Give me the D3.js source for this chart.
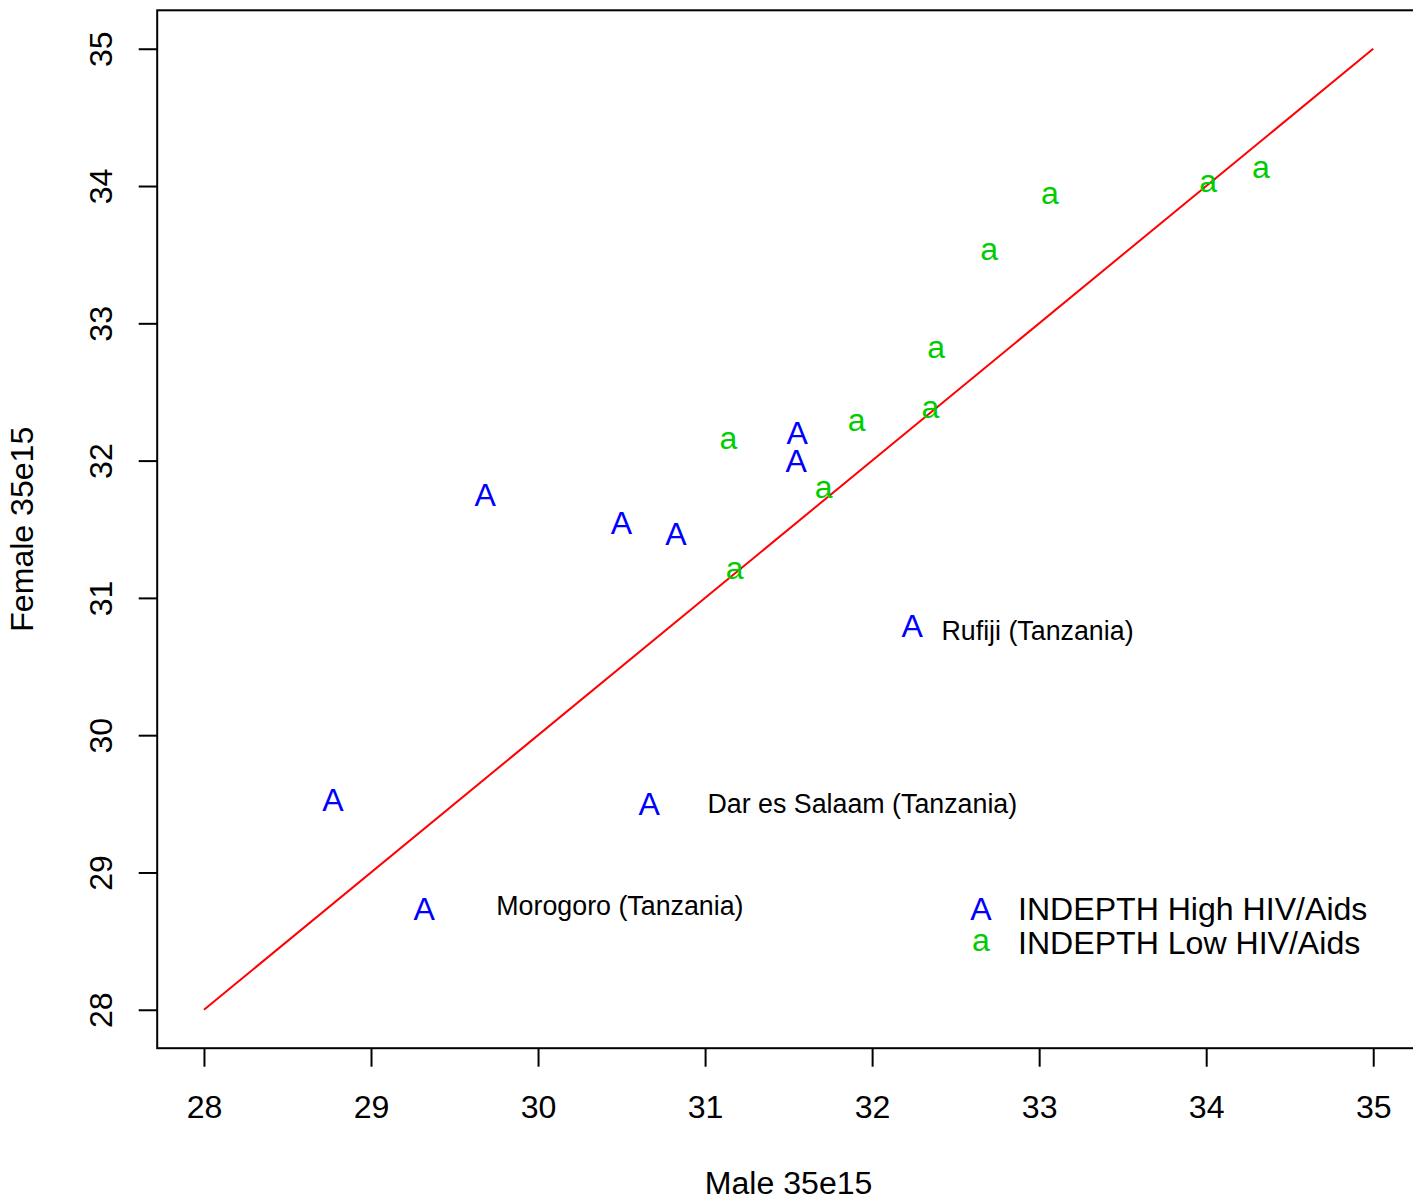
<!DOCTYPE html>
<html>
<head>
<meta charset="utf-8">
<script src="https://cdn.jsdelivr.net/npm/d3@7"></script>
<style>
  html, body { margin: 0; padding: 0; background: #fff; }
  svg { display: block; }
  text { font-family: "Liberation Sans", Arial, Helvetica, sans-serif; }
</style>
</head>
<body>
<svg id="chart" width="1413" height="1199"></svg>
<script>
// Life expectancy at age 35 (e35), male vs female, INDEPTH sites
const highHivMale   = [28.772, 29.319, 29.684, 30.499, 30.826, 30.666, 31.551, 31.545, 32.240];
const highHivFemale = [29.530, 28.736, 31.747, 31.549, 31.464, 29.501, 32.201, 31.994, 30.795];
const lowHivMale    = [31.140, 31.177, 31.710, 31.907, 32.349, 32.383, 32.701, 33.064, 34.012, 34.328];
const lowHivFemale  = [32.146, 31.200, 31.791, 32.277, 32.370, 32.806, 33.525, 33.934, 34.022, 34.118];

const siteLabels = ["Rufiji (Tanzania)", "Dar es Salaam (Tanzania)", "Morogoro (Tanzania)"];
const siteLabelX = [32.415, 31.014, 29.750];
const siteLabelY = [30.764, 29.501, 28.763];

const tickValues = [28, 29, 30, 31, 32, 33, 34, 35];
const equalityLine = [28, 35];

const legendSymbols = ["A", "a"];
const legendLabels = ["INDEPTH High HIV/Aids", "INDEPTH Low HIV/Aids"];

const xTitle = "Male 35e15";
const yTitle = "Female 35e15";

// ---- layout / style ----
const FONT = '"Liberation Sans", Arial, Helvetica, sans-serif';
const baseSize = 32.1;
const labelSize = 26.8;
const blue = "#0000FF";
const green = "#00CD00";

const svg = d3.select("#chart");

// base-graphics style 4% padding around 28..35
const x = d3.scaleLinear().domain([27.72, 35.28]).range([157.2, 1420]);
const y = d3.scaleLinear().domain([27.72, 35.28]).range([1048.2, 10.3]);

// ink-centred vertical offset of a glyph (so the symbol's centre sits on the point)
const ctx = document.createElement("canvas").getContext("2d");
function inkOffset(str, size) {
  ctx.font = `${size}px ${FONT}`;
  const m = ctx.measureText(str);
  return (m.actualBoundingBoxAscent - m.actualBoundingBoxDescent) / 2;
}

// plot frame
svg.append("rect")
  .attr("x", x(27.72)).attr("y", y(35.28))
  .attr("width", x(35.28) - x(27.72))
  .attr("height", y(27.72) - y(35.28))
  .attr("fill", "none").attr("stroke", "#000").attr("stroke-width", 2);

// x axis
const xAxis = d3.axisBottom(x).tickValues(tickValues).tickSize(18.5).tickPadding(0).tickFormat(d3.format("d"));
const gx = svg.append("g").attr("transform", `translate(0,${y(27.72)})`).call(xAxis);
gx.select(".domain").remove();
gx.selectAll(".tick line").attr("stroke", "#000").attr("stroke-width", 2);
gx.selectAll(".tick text")
  .attr("font-size", baseSize).attr("font-family", FONT).attr("fill", "#000")
  .attr("dy", null).attr("y", 1118.3 - y(27.72));

// y axis (labels rotated, reading upwards)
const yAxis = d3.axisLeft(y).tickValues(tickValues).tickSize(18.5).tickPadding(0).tickFormat(d3.format("d"));
const gy = svg.append("g").attr("transform", `translate(${x(27.72)},0)`).call(yAxis);
gy.select(".domain").remove();
gy.selectAll(".tick line").attr("stroke", "#000").attr("stroke-width", 2);
gy.selectAll(".tick text")
  .attr("font-size", baseSize).attr("font-family", FONT).attr("fill", "#000")
  .attr("x", null).attr("dy", null)
  .attr("text-anchor", "middle")
  .attr("transform", `translate(${111.7 - x(27.72)},0) rotate(-90)`);

// axis titles
svg.append("text")
  .attr("x", (x(27.72) + x(35.28)) / 2).attr("y", 1194)
  .attr("text-anchor", "middle").attr("font-size", baseSize).attr("fill", "#000")
  .text(xTitle);
svg.append("text")
  .attr("transform", `translate(33.3,${(y(27.72) + y(35.28)) / 2}) rotate(-90)`)
  .attr("text-anchor", "middle").attr("font-size", baseSize).attr("fill", "#000")
  .text(yTitle);

// clip marks to the plotting region
svg.append("clipPath").attr("id", "plotclip")
  .append("rect")
  .attr("x", x(27.72)).attr("y", y(35.28))
  .attr("width", x(35.28) - x(27.72)).attr("height", y(27.72) - y(35.28));
const plot = svg.append("g").attr("clip-path", "url(#plotclip)");

// equality line
plot.append("path")
  .datum(equalityLine)
  .attr("d", d3.line().x(d => x(d)).y(d => y(d)))
  .attr("fill", "none").attr("stroke", "#FF0000").attr("stroke-width", 2);

// points drawn as letters
function drawLetters(xs, ys, letter, color) {
  const off = inkOffset(letter, baseSize);
  plot.append("g").selectAll("text")
    .data(xs.map((v, i) => [v, ys[i]]))
    .join("text")
    .attr("x", d => x(d[0]))
    .attr("y", d => y(d[1]) + off)
    .attr("text-anchor", "middle")
    .attr("font-size", baseSize)
    .attr("fill", color)
    .text(letter);
}
drawLetters(highHivMale, highHivFemale, "A", blue);
drawLetters(lowHivMale, lowHivFemale, "a", green);

// site annotations
const capOff = inkOffset("H", labelSize);
plot.append("g").selectAll("text")
  .data(siteLabels.map((t, i) => ({ t, x: siteLabelX[i], y: siteLabelY[i] })))
  .join("text")
  .attr("x", d => x(d.x))
  .attr("y", d => y(d.y) + capOff)
  .attr("font-size", labelSize)
  .attr("fill", "#000")
  .text(d => d.t);

// legend
const legend = svg.append("g");
const legendColors = [blue, green];
const legendRowY = [908.6, 942.8];
legendSymbols.forEach((s, i) => {
  legend.append("text")
    .attr("x", 981).attr("y", legendRowY[i] + inkOffset(s, baseSize))
    .attr("text-anchor", "middle").attr("font-size", baseSize)
    .attr("fill", legendColors[i]).text(s);
  legend.append("text")
    .attr("x", 1018).attr("y", legendRowY[i] + inkOffset("H", baseSize))
    .attr("font-size", baseSize).attr("fill", "#000")
    .text(legendLabels[i]);
});
</script>
</body>
</html>
